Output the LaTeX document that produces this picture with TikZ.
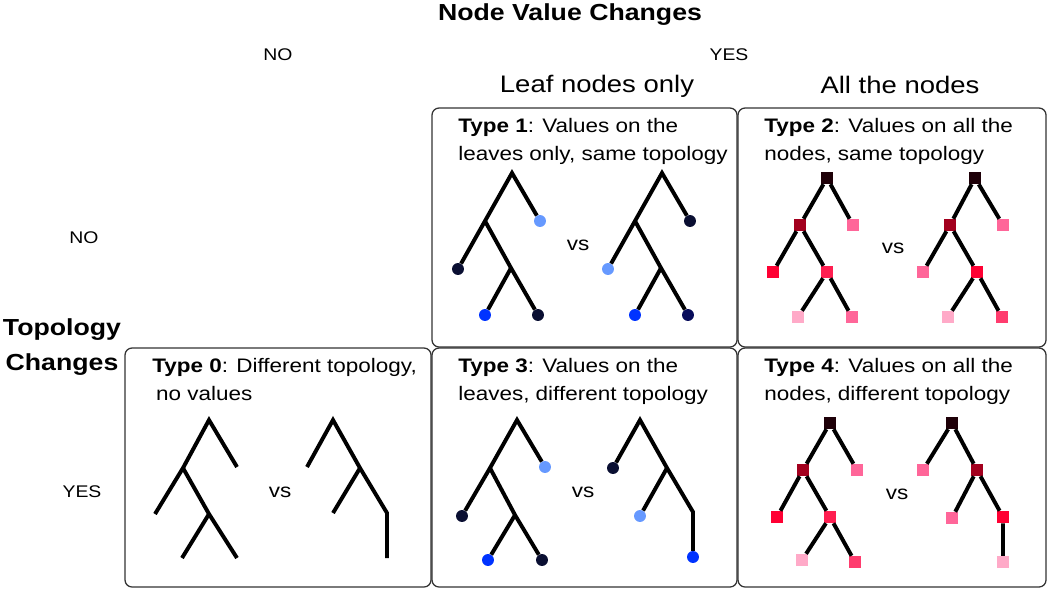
\documentclass[tikz,border=0pt]{standalone}
\usepackage{fontspec}
\setmainfont{Liberation Sans}[FakeStretch=1.15]
\definecolor{navy}{RGB}{10,15,50}
\definecolor{lightblue}{RGB}{102,153,255}
\definecolor{brightblue}{RGB}{0,51,255}
\definecolor{rootred}{RGB}{30,0,8}
\definecolor{darkred}{RGB}{163,0,30}
\definecolor{pinkval}{RGB}{255,102,153}
\definecolor{redval}{RGB}{255,0,51}
\definecolor{midred}{RGB}{255,30,80}
\definecolor{lightpink}{RGB}{255,170,200}
\definecolor{hotpink}{RGB}{255,60,110}

\begin{document}
\begin{tikzpicture}[x=0.025cm, y=-0.025cm,
  every node/.style={font=\fontsize{13.9}{19.9}\selectfont},
  panel/.style={draw=black!80, line width=0.9pt, rounded corners=5pt},
  branch/.style={line width=2.8pt},
  dot/.style={circle, inner sep=0pt, minimum size=8.5pt},
  sq/.style={rectangle, inner sep=0pt, minimum size=8.5pt},
  boxtext/.style={anchor=base west, align=left, inner sep=0pt},
  head/.style={anchor=base, inner sep=0pt, font=\bfseries\fontsize{16.5}{20}\selectfont},
  yesno/.style={anchor=base, inner sep=0pt, font=\fontsize{12}{14}\selectfont},
  colhead/.style={anchor=base, inner sep=0pt, font=\fontsize{17}{20}\selectfont},
  vs/.style={anchor=base, inner sep=0pt}]
\useasboundingbox (0,0) rectangle (1050,592);

% axis labels
\node[head] (nvc) at (570,20) {Node Value Changes};
\node[yesno] (topno) at (278,60) {NO};
\node[yesno] (topyes) at (729,60) {YES};
\node[colhead] (leafonly) at (597,92) {Leaf nodes only};
\node[colhead] (allnodes) at (900,93) {All the nodes};
\node[yesno] (sideno) at (84,243) {NO};
\node[head] (topo) at (62,335) {Topology};
\node[head] (chg) at (62,370) {Changes};
\node[yesno] (sideyes) at (82,497) {YES};

% panels
\draw[panel] (432,108) rectangle (737,347);
\draw[panel] (738,108) rectangle (1046,347);
\draw[panel] (125,348) rectangle (431,587);
\draw[panel] (432,348) rectangle (737,587);
\draw[panel] (738,348) rectangle (1046,587);

% (base of a two-line node = last line)
\node[boxtext] (txt1) at (458,160) {\textbf{Type 1}: Values on the\\leaves only, same topology};
\node[boxtext] (txt2) at (764,160) {\textbf{Type 2}: Values on all the\\nodes, same topology};
\node[boxtext] (txt0) at (152,400) {\textbf{Type 0}: Different topology,\\\hspace{0.2em}no values};
\node[boxtext] (txt3) at (458,400) {\textbf{Type 3}: Values on the\\leaves, different topology};
\node[boxtext] (txt4) at (764,400) {\textbf{Type 4}: Values on all the\\nodes, different topology};

% Type 1
\coordinate (t1L-r) at (512,173);
\coordinate (t1L-a) at (485,221);
\coordinate (t1L-d) at (511,268);
\node[dot, fill=lightblue] (t1L-b) at (540,221) {};
\node[dot, fill=navy] (t1L-c) at (458,269) {};
\node[dot, fill=brightblue] (t1L-e) at (485,315) {};
\node[dot, fill=navy] (t1L-f) at (538,315) {};
\draw[branch] (t1L-c) -- (t1L-a) -- (t1L-r) -- (t1L-b);
\draw[branch] (t1L-a) -- (t1L-d) -- (t1L-f);
\draw[branch] (t1L-d) -- (t1L-e);
\node[vs] (vs1) at (578,250) {vs};
\coordinate (t1R-r) at (662,173);
\coordinate (t1R-a) at (635,221);
\coordinate (t1R-d) at (661,268);
\node[dot, fill=navy] (t1R-b) at (690,221) {};
\node[dot, fill=lightblue] (t1R-c) at (608,269) {};
\node[dot, fill=brightblue] (t1R-e) at (635,315) {};
\node[dot, fill=navy!80!blue] (t1R-f) at (688,315) {};
\draw[branch] (t1R-c) -- (t1R-a) -- (t1R-r) -- (t1R-b);
\draw[branch] (t1R-a) -- (t1R-d) -- (t1R-f);
\draw[branch] (t1R-d) -- (t1R-e);

% Type 2
\node[sq, fill=rootred] (t2L-r) at (827,178) {};
\node[sq, fill=darkred] (t2L-a) at (800,225) {};
\node[sq, fill=pinkval] (t2L-b) at (853,225) {};
\node[sq, fill=redval] (t2L-c) at (773,272) {};
\node[sq, fill=midred] (t2L-d) at (827,272) {};
\node[sq, fill=lightpink] (t2L-e) at (798,317) {};
\node[sq, fill=pinkval] (t2L-f) at (852,317) {};
\draw[branch] (t2L-r) -- (t2L-a) (t2L-r) -- (t2L-b) (t2L-a) -- (t2L-c)
  (t2L-a) -- (t2L-d) (t2L-d) -- (t2L-e) (t2L-d) -- (t2L-f);
\node[vs] (vs2) at (893,253) {vs};
\node[sq, fill=rootred] (t2R-r) at (975,178) {};
\node[sq, fill=darkred] (t2R-a) at (950,225) {};
\node[sq, fill=pinkval] (t2R-b) at (1003,225) {};
\node[sq, fill=pinkval] (t2R-c) at (923,272) {};
\node[sq, fill=redval] (t2R-d) at (977,272) {};
\node[sq, fill=lightpink] (t2R-e) at (948,317) {};
\node[sq, fill=hotpink] (t2R-f) at (1002,317) {};
\draw[branch] (t2R-r) -- (t2R-a) (t2R-r) -- (t2R-b) (t2R-a) -- (t2R-c)
  (t2R-a) -- (t2R-d) (t2R-d) -- (t2R-e) (t2R-d) -- (t2R-f);

% Type 0
\coordinate (t0L-r) at (209,420);
\coordinate (t0L-a) at (183,468);
\coordinate (t0L-b) at (237,467);
\coordinate (t0L-c) at (155,514);
\coordinate (t0L-d) at (209,514);
\coordinate (t0L-e) at (182,558);
\coordinate (t0L-f) at (237,558);
\draw[branch] (t0L-c) -- (t0L-a) -- (t0L-r) -- (t0L-b);
\draw[branch] (t0L-a) -- (t0L-d) -- (t0L-f);
\draw[branch] (t0L-d) -- (t0L-e);
\node[vs] (vs0) at (280,497) {vs};
\coordinate (t0R-r) at (333,420);
\coordinate (t0R-l) at (307,467);
\coordinate (t0R-m) at (360,468);
\coordinate (t0R-ml) at (333,513);
\coordinate (t0R-n) at (387,513);
\coordinate (t0R-nd) at (387,558);
\draw[branch] (t0R-l) -- (t0R-r) -- (t0R-m) -- (t0R-n) -- (t0R-nd);
\draw[branch] (t0R-m) -- (t0R-ml);

% Type 3
\coordinate (t3L-r) at (517,420);
\coordinate (t3L-a) at (490,468);
\coordinate (t3L-d) at (515,515);
\node[dot, fill=lightblue] (t3L-b) at (545,467) {};
\node[dot, fill=navy] (t3L-c) at (462,516) {};
\node[dot, fill=brightblue] (t3L-e) at (488,560) {};
\node[dot, fill=navy] (t3L-f) at (542,560) {};
\draw[branch] (t3L-c) -- (t3L-a) -- (t3L-r) -- (t3L-b);
\draw[branch] (t3L-a) -- (t3L-d) -- (t3L-f);
\draw[branch] (t3L-d) -- (t3L-e);
\node[vs] (vs3) at (583,497) {vs};
\coordinate (t3R-r) at (640,420);
\coordinate (t3R-m) at (667,468);
\coordinate (t3R-n) at (693,512);
\node[dot, fill=navy] (t3R-l) at (613,468) {};
\node[dot, fill=lightblue] (t3R-ml) at (640,516) {};
\node[dot, fill=brightblue] (t3R-nd) at (693,557) {};
\draw[branch] (t3R-l) -- (t3R-r) -- (t3R-m) -- (t3R-n) -- (t3R-nd);
\draw[branch] (t3R-m) -- (t3R-ml);

% Type 4
\node[sq, fill=rootred] (t4L-r) at (830,423) {};
\node[sq, fill=darkred] (t4L-a) at (803,470) {};
\node[sq, fill=pinkval] (t4L-b) at (857,470) {};
\node[sq, fill=redval] (t4L-c) at (777,517) {};
\node[sq, fill=midred] (t4L-d) at (830,517) {};
\node[sq, fill=lightpink] (t4L-e) at (802,560) {};
\node[sq, fill=hotpink] (t4L-f) at (855,562) {};
\draw[branch] (t4L-r) -- (t4L-a) (t4L-r) -- (t4L-b) (t4L-a) -- (t4L-c)
  (t4L-a) -- (t4L-d) (t4L-d) -- (t4L-e) (t4L-d) -- (t4L-f);
\node[vs] (vs4) at (897,499) {vs};
\node[sq, fill=rootred] (t4R-r) at (952,423) {};
\node[sq, fill=pinkval] (t4R-l) at (923,470) {};
\node[sq, fill=darkred] (t4R-m) at (977,470) {};
\node[sq, fill=pinkval] (t4R-ml) at (952,518) {};
\node[sq, fill=redval] (t4R-n) at (1003,517) {};
\node[sq, fill=lightpink] (t4R-nd) at (1003,562) {};
\draw[branch] (t4R-r) -- (t4R-l) (t4R-r) -- (t4R-m) (t4R-m) -- (t4R-ml)
  (t4R-m) -- (t4R-n) (t4R-n) -- (t4R-nd);
\end{tikzpicture}
\end{document}
